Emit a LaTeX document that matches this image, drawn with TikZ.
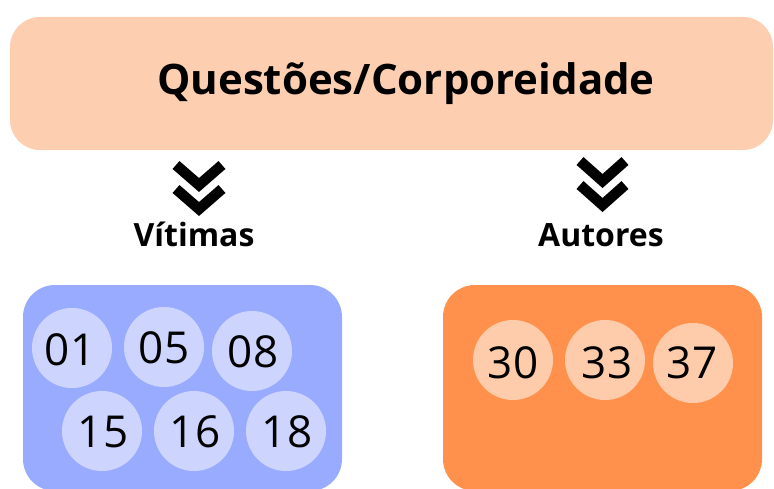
\documentclass[tikz,border=0pt]{standalone}
\usepackage{fontspec}
\setmainfont{Open Sans}
\definecolor{peach}{HTML}{FECEB0}
\definecolor{bluebox}{HTML}{99ABFF}
\definecolor{bluecirc}{HTML}{CDD5FF}
\definecolor{orangebox}{HTML}{FF914D}
\definecolor{orangecirc}{HTML}{FFCCAB}
\begin{document}
\begin{tikzpicture}[x=1pt,y=-1pt,
  titlebox/.style={fill=peach, rounded corners=30pt},
  groupbox/.style={rounded corners=32pt},
  num/.style={circle, minimum size=80pt, inner sep=0pt},
  numtext/.style={anchor=base, inner sep=0pt, font=\fontsize{44}{44}\selectfont},
  label/.style={anchor=base, inner sep=0pt, font=\fontsize{32}{32}\selectfont\bfseries},
  chev/.style={line width=10.5pt, line join=miter, line cap=butt}]
\useasboundingbox (0,0) rectangle (774,489);
\fill[white] (0,0) rectangle (774,489);
% title
\fill[titlebox] (10,17) rectangle (773,150);
\node[anchor=base, inner sep=0pt, font=\fontsize{42}{42}\selectfont\bfseries] (title) at (406,95) {Questões/Corporeidade};
% chevrons
\draw[chev] (176,165) -- (199,185) -- (222,165);
\draw[chev] (176,189) -- (199,209) -- (222,189);
\draw[chev] (580,161) -- (602.5,181) -- (625,161);
\draw[chev] (580,185) -- (602.5,205) -- (625,185);
% labels
\node[label] (vit) at (194,247) {Vítimas};
\node[label] (aut) at (601,247) {Autores};
% boxes
\begin{scope}
\clip (0,0) rectangle (774,489);
\fill[bluebox, groupbox] (23,285) rectangle (342,491);
\fill[orangebox, groupbox] (443,285) rectangle (762,491);
\end{scope}
% blue circles
\node[num, fill=bluecirc] (c01) at (72,348) {};
\node[num, fill=bluecirc] (c05) at (164,347) {};
\node[num, fill=bluecirc] (c08) at (252,351) {};
\node[num, fill=bluecirc] (c15) at (102,431) {};
\node[num, fill=bluecirc] (c16) at (194,431) {};
\node[num, fill=bluecirc] (c18) at (286,431) {};
\node[numtext] (t01) at (70,365) {01};
\node[numtext] (t05) at (164,363) {05};
\node[numtext] (t08) at (253,367) {08};
\node[numtext] (t15) at (103,447) {15};
\node[numtext] (t16) at (195,447) {16};
\node[numtext] (t18) at (287,447) {18};
% orange circles
\node[num, fill=orangecirc] (c30) at (513,360) {};
\node[num, fill=orangecirc] (c33) at (605,360) {};
\node[num, fill=orangecirc] (c37) at (693,363) {};
\node[numtext] (t30) at (513,378) {30};
\node[numtext] (t33) at (607,378) {33};
\node[numtext] (t37) at (692,378) {37};
\end{tikzpicture}
\end{document}
